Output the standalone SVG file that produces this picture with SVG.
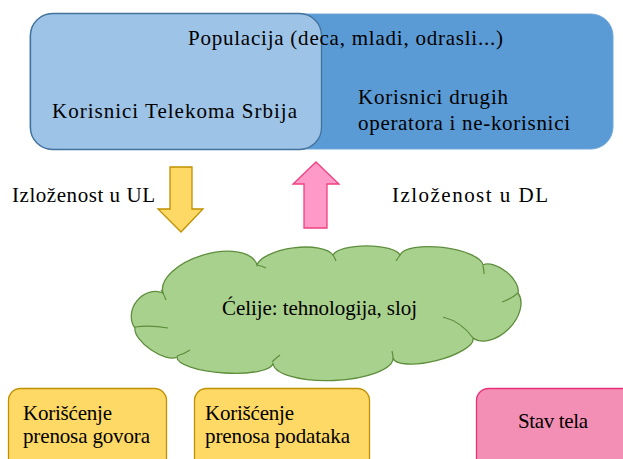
<svg xmlns="http://www.w3.org/2000/svg" width="623" height="459" viewBox="0 0 623 459">
<defs>
<path id="cloud-outline" d="M163,293 A49,25 -16.6 0 1 257,265 A39,15 -7.5 0 1 333,255 A34,11 0 0 1 400,255 A42,14 6.9 0 1 483,265 A23,12 38.7 0 1 518,293 A32,21 135 0 1 473,338 A41,13 166 0 1 393,358 A60,20 177.6 0 1 273,363 A48,13 183.6 0 1 177,357 A26,11 214.6 0 1 135,328 A23,20 -51.3 0 1 163,293 Z"/>
</defs>
<rect width="623" height="459" fill="#fff"/>
<g id="population">
<rect x="30" y="14" width="583" height="135" rx="22" fill="#5B9BD5" stroke="#6FA6D9" stroke-width="1"/>
<text x="358" y="104" textLength="150" font-family="Liberation Serif" font-size="21">Korisnici drugih</text>
<text x="358" y="130" textLength="212" font-family="Liberation Serif" font-size="21">operatora i ne-korisnici</text>
</g>
<g id="telekom">
<rect x="30.5" y="13.5" width="291" height="136" rx="22" fill="#9DC3E6" stroke="#41719C" stroke-width="1.3"/>
<text x="52" y="118" textLength="245" font-family="Liberation Serif" font-size="21">Korisnici  Telekoma  Srbija</text>
</g>
<g id="population-label">
<text x="188" y="45" textLength="315" font-family="Liberation Serif" font-size="21">Populacija (deca, mladi, odrasli...)</text>
</g>
<g id="connectors">
<path id="arrow-ul" fill="#FFD966" stroke="#BF9000" stroke-width="1.3" d="M170,167 H192 V209 H203 L181,232 L158,209 H170 Z"/>
<path id="arrow-dl" fill="#FF99C8" stroke="#F0407F" stroke-width="1.3" d="M316,162 L339,184 H327 V228 H304 V184 H293 Z"/>
</g>
<g id="label-ul"><text x="12" y="202" textLength="143" font-family="Liberation Serif" font-size="21">Izloženost  u UL</text></g>
<g id="label-dl"><text x="392" y="202" textLength="156" font-family="Liberation Serif" font-size="21">Izloženost  u DL</text></g>
<g id="cells">
<use href="#cloud-outline" fill="#A9D18E" stroke="#5E8E3C" stroke-width="1.3"/>
<path fill="none" stroke="#5E8E3C" stroke-width="1.2" d="M161,290 Q164,294 166,300 M135,327 Q150,325 168,328 M177,356 Q184,354 190,350 M272,362 Q276,358 280,355 M393,358 Q393,355 392,351 M443,317 Q462,322 473,338 M502,302 Q511,299 518,293 M483,266 Q484,270 484,274 M400,255 Q398,258 396,261 M333,255 Q335,258 336,261 M257,265 Q262,266 266,268"/>
<text x="222" y="315" textLength="195" font-family="Liberation Serif" font-size="21">Ćelije: tehnologija,  sloj</text>
</g>
<g id="voice">
<rect x="8.5" y="388.5" width="158" height="82" rx="12" fill="#FFD966" stroke="#BF9000" stroke-width="1.3"/>
<text x="23" y="420" textLength="89" font-family="Liberation Serif" font-size="21">Korišćenje</text>
<text x="23" y="443" textLength="127" font-family="Liberation Serif" font-size="21">prenosa govora</text>
</g>
<g id="data">
<rect x="194.5" y="388.5" width="175" height="82" rx="12" fill="#FFD966" stroke="#BF9000" stroke-width="1.3"/>
<text x="205" y="420" textLength="89" font-family="Liberation Serif" font-size="21">Korišćenje</text>
<text x="205" y="443" textLength="145" font-family="Liberation Serif" font-size="21">prenosa podataka</text>
</g>
<g id="body">
<rect x="476.5" y="388.5" width="160" height="82" rx="12" fill="#F38EB4" stroke="#E8317A" stroke-width="1.3"/>
<text x="518" y="428" textLength="70" font-family="Liberation Serif" font-size="21">Stav tela</text>
</g>
</svg>
